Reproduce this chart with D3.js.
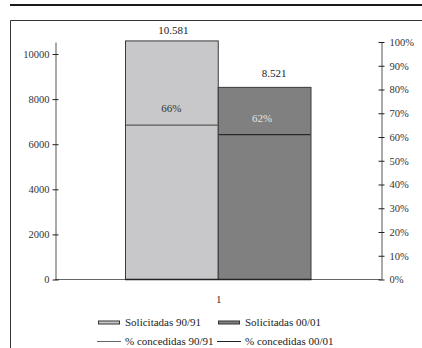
<!DOCTYPE html>
<html>
<head>
<meta charset="utf-8">
<script src="https://cdn.jsdelivr.net/npm/d3@7"></script>
<style>
  html, body { margin: 0; padding: 0; background: #fff; }
  svg { display: block; }
</style>
</head>
<body>
<script>
// ---- data ----
const categories = ["1"];
const seriesNames = ["Solicitadas 90/91", "Solicitadas 00/01"];
const solicitadas = [10581, 8521];
const pctNames = ["% concedidas 90/91", "% concedidas 00/01"];
const pctConcedidas = [0.65, 0.61];
const pctLabels = ["66%", "62%"];
const leftTicks = [0, 2000, 4000, 6000, 8000, 10000];
const rightTicks = [0, 0.1, 0.2, 0.3, 0.4, 0.5, 0.6, 0.7, 0.8, 0.9, 1];

// ---- layout ----
const W = 422, H = 348;
const FONT = "\"Liberation Serif\"";
const plotTop = 41.5, plotBottom = 279, axL = 55, axR = 381;
const barFills = ["#c8c8ca", "#808080"];
const lineColors = ["#5a5a5a", "#2a2a2a"];

const svg = d3.select("body").append("svg").attr("width", W).attr("height", H);

// frame
svg.append("line").attr("x1", 10).attr("x2", W).attr("y1", 5).attr("y2", 5)
  .attr("stroke", "#1a1a1a").attr("stroke-width", 2.2);
svg.append("path").attr("d", `M10.5,${H} V20.5 H${W}`)
  .attr("fill", "none").attr("stroke", "#333").attr("stroke-width", 1);

const yL = d3.scaleLinear().domain([0, 10533]).range([plotBottom, plotTop]);
const yR = d3.scaleLinear().domain([0, 1]).range([plotBottom, plotTop]);
const xCat = d3.scaleBand().domain(categories).range([125, 310.5]).padding(0);
const xSer = d3.scaleBand().domain(seriesNames).range([0, xCat.bandwidth()]).padding(0);

const esLocale = d3.formatLocale({decimal: ",", thousands: ".", grouping: [3], currency: ["", " €"]});
const fmtNum = esLocale.format(",");
const fmtPct = d3.format(".0%");

// bottom axis line
svg.append("line").attr("x1", axL).attr("x2", axR).attr("y1", plotBottom + 0.5).attr("y2", plotBottom + 0.5)
  .attr("stroke", "#666").attr("stroke-width", 1);

// bars
const bars = seriesNames.map((s, i) => ({s, v: solicitadas[i], p: pctConcedidas[i], lab: pctLabels[i], i}));
const g = svg.append("g").attr("transform", `translate(${xCat(categories[0])},0)`);
g.selectAll("rect.bar").data(bars).join("rect")
  .attr("class", "bar")
  .attr("x", d => xSer(d.s) + 0.5)
  .attr("y", d => yL(d.v) + 0.5)
  .attr("width", xSer.bandwidth())
  .attr("height", d => yL(0) - yL(d.v))
  .attr("fill", (d) => barFills[d.i])
  .attr("stroke", "#3a3a3a").attr("stroke-width", 1);

// bar bottom edge (dark)
svg.append("line").attr("x1", xCat(categories[0])).attr("x2", xCat(categories[0]) + xCat.bandwidth() + 1)
  .attr("y1", plotBottom + 0.5).attr("y2", plotBottom + 0.5).attr("stroke", "#222").attr("stroke-width", 1.5);

// percentage lines
g.selectAll("line.pct").data(bars).join("line")
  .attr("class", "pct")
  .attr("x1", d => xSer(d.s) + 1)
  .attr("x2", d => xSer(d.s) + xSer.bandwidth())
  .attr("y1", d => yR(d.p) + 0.5)
  .attr("y2", d => yR(d.p) + 0.5)
  .attr("stroke", d => lineColors[d.i]).attr("stroke-width", 1.2);

// value labels
const valDx = [2, 10], valDy = [6.5, 10];
g.selectAll("text.val").data(bars).join("text")
  .attr("class", "val")
  .attr("x", d => xSer(d.s) + xSer.bandwidth() / 2 + valDx[d.i])
  .attr("y", d => yL(d.v) - valDy[d.i])
  .attr("text-anchor", "middle").style("font-family", FONT).style("font-size", "11px").attr("fill", "#222")
  .text(d => fmtNum(d.v));

// pct labels
g.selectAll("text.pl").data(bars).join("text")
  .attr("class", "pl")
  .attr("x", d => xSer(d.s) + xSer.bandwidth() / 2 + (d.i ? -2 : 0))
  .attr("y", d => yR(d.p) - 12.5)
  .attr("text-anchor", "middle").style("font-family", FONT).style("font-size", "11px")
  .attr("fill", d => d.i ? "#e4e4e4" : "#333")
  .text(d => d.lab);

// left axis
const axisLeft = d3.axisLeft(yL).tickValues(leftTicks).tickSizeInner(3).tickSizeOuter(0).tickFormat(d3.format("d"));
const gl = svg.append("g").attr("transform", `translate(${axL + 0.5},0.5)`).call(axisLeft);
gl.select(".domain").attr("stroke", "#555");
gl.selectAll(".tick line").attr("x1", 3).attr("x2", -3).attr("stroke", "#222");
gl.selectAll(".tick text").attr("x", -6).attr("fill", "#333")
  .style("font-family", FONT).style("font-size", "10.5px");

// right axis
const axisRight = d3.axisRight(yR).tickValues(rightTicks).tickSizeInner(3).tickSizeOuter(0).tickFormat(fmtPct);
const gr = svg.append("g").attr("transform", `translate(${axR + 0.5},0.5)`).call(axisRight);
gr.select(".domain").attr("stroke", "#555");
gr.selectAll(".tick line").attr("x1", -3).attr("x2", 3).attr("stroke", "#222");
gr.selectAll(".tick text").attr("x", 8).attr("fill", "#333")
  .style("font-family", FONT).style("font-size", "10.5px");

// category label
svg.append("text").attr("x", xCat(categories[0]) + xCat.bandwidth() / 2 + 1).attr("y", 302.5)
  .attr("text-anchor", "middle").style("font-family", FONT).style("font-size", "11px").attr("fill", "#333").text(categories[0]);

// legend
const legX = [98, 218];
const row1 = 322.5, row2 = 341.5;
seriesNames.forEach((s, i) => {
  svg.append("rect").attr("x", legX[i] + 0.5).attr("y", row1 - 2 + 0.5).attr("width", 21).attr("height", 3)
    .attr("fill", barFills[i]).attr("stroke", "#333").attr("stroke-width", 1);
  svg.append("text").attr("x", legX[i] + 27).attr("y", row1 + 3.5)
    .style("font-family", FONT).style("font-size", "11px").attr("fill", "#222").text(s);
});
pctNames.forEach((s, i) => {
  svg.append("line").attr("x1", legX[i] - 1).attr("x2", legX[i] + 23).attr("y1", row2).attr("y2", row2)
    .attr("stroke", i ? "#222" : "#666").attr("stroke-width", 1);
  svg.append("text").attr("x", legX[i] + 27).attr("y", row2 + 3.5)
    .style("font-family", FONT).style("font-size", "11px").attr("fill", "#222").text(s);
});
</script>
</body>
</html>
